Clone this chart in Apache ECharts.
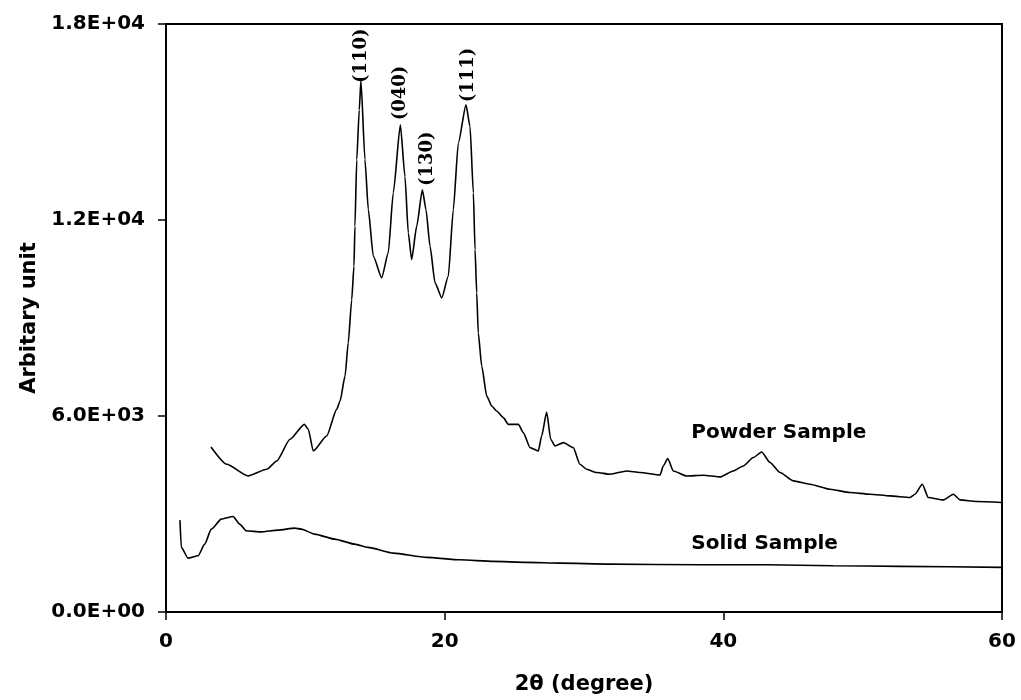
<!DOCTYPE html>
<html>
<head>
<meta charset="utf-8">
<script src="https://cdn.jsdelivr.net/npm/echarts@6/dist/echarts.min.js"></script>
<style>
  html, body { margin: 0; padding: 0; background: #fff; }
  #container { width: 1021px; height: 700px; }
</style>
</head>
<body>
<div id="container"></div>
<script>
// powder sample trace (2theta, intensity)
const powderX = [3.23, 4.36, 5.89, 7.23, 7.95, 8.90, 9.93, 10.21, 10.57, 11.53, 12.25, 12.49, 12.85, 13.08, 13.33,
  13.49, 13.56, 13.69, 13.87, 13.99, 14.28, 14.52, 14.88, 15.48, 15.95, 16.31, 16.82, 17.15, 17.39, 17.63,
  17.99, 18.40, 18.66, 18.95, 19.31, 19.79, 20.26, 20.62, 20.98, 21.53, 21.82, 22.06, 22.18, 22.30, 22.41,
  22.66, 23.02, 23.38, 23.73, 24.21, 24.57, 25.29, 25.64, 26.13, 26.72, 26.96, 27.32, 27.61, 27.92, 28.52,
  29.23, 29.71, 30.19, 30.91, 31.87, 33.07, 34.02, 35.46, 35.69, 36.01, 36.41, 37.37, 38.56, 39.76, 40.72,
  41.43, 42.15, 42.75, 43.35, 44.07, 45.02, 46.22, 47.66, 49.09, 50.53, 51.96, 53.40, 53.76, 54.28, 54.71,
  55.79, 56.51, 56.99, 58.19, 59.98];
const powderY = [5052, 4523, 4165, 4370, 4624, 5287, 5745, 5593, 4929, 5388, 6204, 6457, 7221, 8242, 9565,
  10583, 11805, 13844, 15372, 16267, 13844, 12317, 10889, 10228, 10993, 12826, 14913, 13333, 11604, 10788,
  11805, 12927, 12316, 11194, 10076, 9617, 10277, 12316, 14354, 15524, 14862, 12826, 11093, 9770, 8548,
  7527, 6610, 6304, 6152, 5950, 5745, 5745, 5492, 5033, 4929, 5388, 6121, 5287, 5082, 5186,
  5033, 4523, 4370, 4269, 4217, 4318, 4269, 4196, 4471, 4697, 4318, 4165, 4187, 4135, 4318,
  4471, 4728, 4899, 4575, 4269, 4013, 3912, 3759, 3658, 3606, 3554, 3505, 3606, 3912, 3505,
  3432, 3606, 3432, 3383, 3352];

// solid sample trace
const solidX = [1.00, 1.10, 1.58, 2.30, 2.78, 3.25, 3.97, 4.81, 5.29, 5.76, 6.84, 8.04, 9.24, 9.71, 10.67,
  12.11, 13.54, 14.50, 16.31, 18.71, 21.10, 23.49, 25.89, 28.28, 31.87, 38.33, 43.11, 47.89, 52.68, 59.98];
const solidY = [2812, 1977, 1650, 1720, 2078, 2536, 2842, 2925, 2689, 2485, 2454, 2506, 2567, 2536, 2384,
  2231, 2078, 1977, 1803, 1672, 1598, 1549, 1519, 1497, 1467, 1445, 1445, 1415, 1397, 1366];

// reflection labels
const peakNames = ['(110)', '(040)', '(130)', '(111)'];
const peakX = [13.99, 16.85, 18.72, 21.72];
const peakY = [16130, 14990, 12980, 15540];

// sample names
const sampleNames = ['Powder Sample', 'Solid Sample'];
const sampleX = [37.7, 37.7];
const sampleY = [5500, 2080];

const xTicks = [0, 20, 40, 60];
const yTicks = [0, 6000, 12000, 18000];

const toPairs = (xs, ys) => xs.map((x, i) => [x, ys[i]]);

var dom = document.getElementById('container');
var myChart = echarts.init(dom, null, { renderer: 'canvas' });

const sansBold = { fontFamily: 'DejaVu Sans', fontWeight: 'bold', color: '#000' };

var option = {
    animation: false,
    backgroundColor: '#fff',
    grid: {
        left: 166,
        right: 19,
        top: 24,
        bottom: 87,
        show: true,
        borderColor: '#000',
        borderWidth: 2
    },
    xAxis: {
        type: 'value',
        min: xTicks[0],
        max: xTicks[xTicks.length - 1],
        interval: 20,
        name: '2θ (degree)',
        nameLocation: 'middle',
        nameGap: 62,
        nameTextStyle: Object.assign({ fontSize: 21 }, sansBold),
        axisLine: { lineStyle: { color: '#000', width: 2 } },
        axisTick: { show: true, length: 8, lineStyle: { color: '#000', width: 1.5 } },
        axisLabel: Object.assign({ fontSize: 20, margin: 20 }, sansBold),
        splitLine: { show: false }
    },
    yAxis: {
        type: 'value',
        min: yTicks[0],
        max: yTicks[yTicks.length - 1],
        interval: 6000,
        name: 'Arbitary unit',
        nameLocation: 'middle',
        nameGap: 126,
        nameTextStyle: Object.assign({ fontSize: 21 }, sansBold),
        axisLine: { show: true, lineStyle: { color: '#000', width: 2 } },
        axisTick: { show: true, length: 8, lineStyle: { color: '#000', width: 1.5 } },
        axisLabel: Object.assign({
            fontSize: 20,
            margin: 21,
            formatter: function (v) {
                return v.toExponential(1).replace('e+', 'E+0').replace('e-', 'E-0');
            }
        }, sansBold),
        splitLine: { show: false }
    },
    series: [
        {
            name: 'Powder Sample',
            type: 'line',
            data: toPairs(powderX, powderY),
            showSymbol: false,
            smooth: 0.2,
            smoothMonotone: 'x',
            lineStyle: { color: '#000', width: 1.6 }
        },
        {
            name: 'Solid Sample',
            type: 'line',
            data: toPairs(solidX, solidY),
            showSymbol: false,
            smooth: 0.2,
            smoothMonotone: 'x',
            lineStyle: { color: '#000', width: 1.6 }
        },
        {
            type: 'scatter',
            symbolSize: 0,
            silent: true,
            itemStyle: { opacity: 1 },
            data: peakX.map((x, i) => ({ value: [x, peakY[i]], name: peakNames[i] })),
            label: {
                show: true,
                position: 'top',
                distance: 2,
                rotate: 90,
                align: 'left',
                verticalAlign: 'middle',
                formatter: '{b}',
                fontFamily: 'DejaVu Serif',
                fontWeight: 'bold',
                fontSize: 18,
                color: '#000'
            }
        },
        {
            type: 'scatter',
            symbolSize: 0,
            silent: true,
            itemStyle: { opacity: 1 },
            data: sampleX.map((x, i) => ({ value: [x, sampleY[i]], name: sampleNames[i] })),
            label: Object.assign({
                show: true,
                position: 'right',
                distance: 0,
                formatter: '{b}',
                fontSize: 20
            }, sansBold)
        }
    ]
};

myChart.setOption(option);
window.addEventListener('resize', myChart.resize);
</script>
</body>
</html>
